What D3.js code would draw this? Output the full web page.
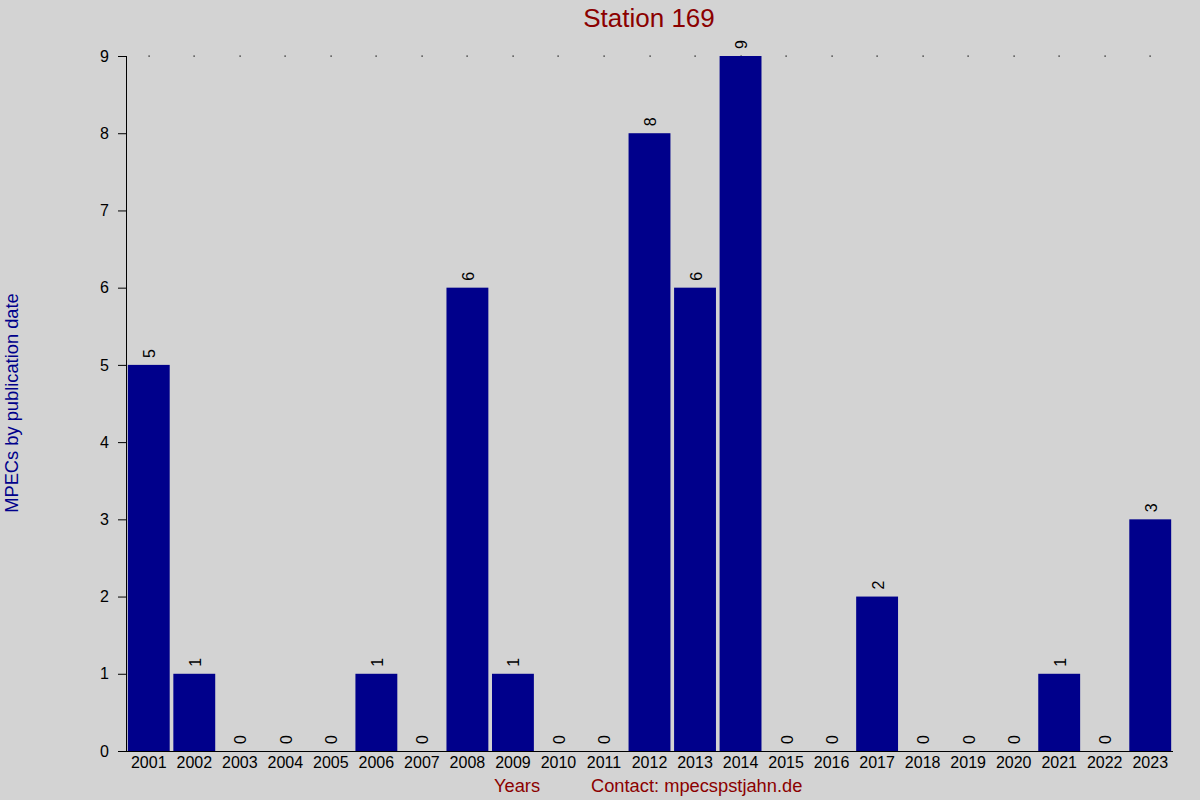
<!DOCTYPE html>
<html>
<head>
<meta charset="utf-8">
<script src="https://cdn.jsdelivr.net/npm/d3@7"></script>
<style>
  html, body { margin: 0; padding: 0; background: #d3d3d3; }
  svg { display: block; font-family: "Liberation Sans", Arial, sans-serif; }
</style>
</head>
<body>
<div id="chart"></div>
<script>
// data
const years = ["2001", "2002", "2003", "2004", "2005", "2006", "2007", "2008", "2009", "2010", "2011", "2012",
               "2013", "2014", "2015", "2016", "2017", "2018", "2019", "2020", "2021", "2022", "2023"];
const counts = [5, 1, 0, 0, 0, 1, 0, 6, 1, 0, 0, 8, 6, 9, 0, 0, 2, 0, 0, 0, 1, 0, 3];
const yTicks = [0, 1, 2, 3, 4, 5, 6, 7, 8, 9];

const width = 1200, height = 800;
const margin = { top: 56, right: 27, bottom: 49, left: 126 };
const innerW = width - margin.left - margin.right;
const innerH = height - margin.top - margin.bottom;

const data = years.map((y, i) => ({ year: y, value: counts[i] }));

const svg = d3.select("#chart")
    .append("svg")
    .attr("width", width)
    .attr("height", height);

// background
svg.append("rect")
    .attr("width", width)
    .attr("height", height)
    .attr("fill", "#d3d3d3");

const chart = svg.append("g")
    .attr("transform", `translate(${margin.left},${margin.top})`);

const x = d3.scaleBand()
    .domain(years)
    .range([0, innerW])
    .paddingInner(0.08)
    .paddingOuter(0.04);

const y = d3.scaleLinear()
    .domain([0, 9])
    .range([innerH, 0]);

// tiny dots along the top (max) line
chart.selectAll(".top-dot")
    .data(data)
    .enter()
    .append("rect")
    .attr("class", "top-dot")
    .attr("x", d => Math.round(x(d.year) + x.bandwidth() / 2) - 0.5)
    .attr("y", y(9) - 0.5)
    .attr("width", 1.2)
    .attr("height", 1.2)
    .attr("fill", "#000");

// bars
chart.selectAll(".bar")
    .data(data)
    .enter()
    .append("rect")
    .attr("class", "bar")
    .attr("x", d => x(d.year))
    .attr("y", d => y(d.value))
    .attr("width", x.bandwidth())
    .attr("height", d => innerH - y(d.value))
    .attr("fill", "#00008b");

// value labels, rotated
chart.selectAll(".val")
    .data(data)
    .enter()
    .append("text")
    .attr("class", "val")
    .attr("transform", d => `translate(${x(d.year) + x.bandwidth() / 2 + 1},${y(d.value) - 7}) rotate(-90)`)
    .attr("dominant-baseline", "central")
    .attr("text-anchor", "start")
    .style("font-size", "16px")
    .attr("fill", "#000")
    .text(d => d.value);

// y axis
const yAxis = d3.axisLeft(y)
    .tickValues(yTicks)
    .tickSize(8)
    .tickPadding(9)
    .tickFormat(d3.format("d"));

const yG = chart.append("g")
    .call(yAxis);
yG.select(".domain").attr("stroke", "#000").attr("d", `M0.5,${y(9)}V${innerH}`);
yG.selectAll(".tick line").attr("stroke", "#000");
yG.selectAll("text")
    .style("font-size", "16px")
    .attr("fill", "#000")
    .attr("font-family", "Liberation Sans, Arial, sans-serif");

// x axis
const xAxis = d3.axisBottom(x).tickSize(0).tickPadding(6);
const xG = chart.append("g")
    .attr("transform", `translate(0,${innerH})`)
    .call(xAxis);
xG.select(".domain").attr("stroke", "#000").attr("d", `M-8,0.5H${innerW}`);
xG.selectAll("text")
    .style("font-size", "16px")
    .attr("fill", "#000")
    .attr("font-family", "Liberation Sans, Arial, sans-serif");

// title
svg.append("text")
    .attr("x", 649)
    .attr("y", 27)
    .attr("text-anchor", "middle")
    .style("font-size", "26px")
    .attr("fill", "#8b0000")
    .text("Station 169");

// x labels
svg.append("text")
    .attr("x", 494)
    .attr("y", 792)
    .style("font-size", "18.3px")
    .attr("fill", "#8b0000")
    .text("Years");

svg.append("text")
    .attr("x", 591)
    .attr("y", 792)
    .style("font-size", "18.3px")
    .attr("fill", "#8b0000")
    .text("Contact: mpecspstjahn.de");

// y label
svg.append("text")
    .attr("transform", `translate(18,403) rotate(-90)`)
    .attr("text-anchor", "middle")
    .style("font-size", "18.3px")
    .attr("fill", "#00008b")
    .text("MPECs by publication date");
</script>
</body>
</html>
